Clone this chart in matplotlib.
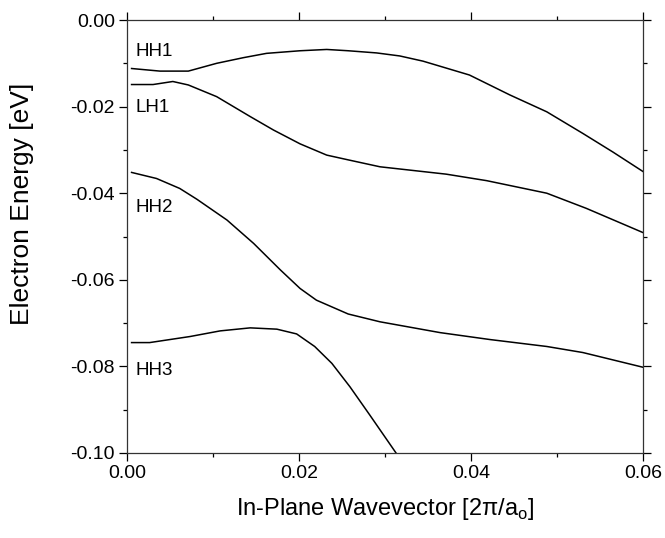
import matplotlib.pyplot as plt

plt.rcParams['font.family'] = ['Liberation Sans', 'DejaVu Sans']
plt.rcParams['axes.unicode_minus'] = False

# band data: in-plane wavevector [2pi/a0] vs energy [eV]
hh1_k = [0.0005, 0.0038, 0.0071, 0.0104, 0.0135, 0.0162, 0.0201, 0.0232, 0.0257, 0.0290,
         0.0317, 0.0344, 0.0398, 0.0445, 0.0488, 0.0530, 0.0565, 0.0600]
hh1_e = [-0.0112, -0.0118, -0.0118, -0.0100, -0.0087, -0.0077, -0.0071, -0.0068, -0.0071, -0.0076,
         -0.0083, -0.0095, -0.0127, -0.0173, -0.0212, -0.0262, -0.0305, -0.0350]

lh1_k = [0.0005, 0.0030, 0.0053, 0.0071, 0.0104, 0.0143, 0.0170, 0.0201, 0.0232, 0.0257,
         0.0294, 0.0371, 0.0418, 0.0488, 0.0534, 0.0600]
lh1_e = [-0.0149, -0.0149, -0.0142, -0.0150, -0.0177, -0.0223, -0.0254, -0.0286, -0.0312,
         -0.0323, -0.0339, -0.0356, -0.0371, -0.0400, -0.0435, -0.0491]

hh2_k = [0.0005, 0.0034, 0.0061, 0.0081, 0.0116, 0.0147, 0.0178, 0.0201, 0.0220, 0.0257,
         0.0294, 0.0364, 0.0422, 0.0488, 0.0530, 0.0600]
hh2_e = [-0.0352, -0.0366, -0.0389, -0.0414, -0.0462, -0.0516, -0.0577, -0.0620, -0.0647,
         -0.0679, -0.0697, -0.0722, -0.0738, -0.0754, -0.0768, -0.0802]

hh3_k = [0.0005, 0.0026, 0.0073, 0.0108, 0.0143, 0.0174, 0.0197, 0.0218, 0.0238, 0.0259,
         0.0282, 0.0313]
hh3_e = [-0.0745, -0.0745, -0.0731, -0.0718, -0.0711, -0.0714, -0.0725, -0.0754, -0.0793,
         -0.0847, -0.0912, -0.1001]

band_names = ['HH1', 'LH1', 'HH2', 'HH3']
label_k = [0.0009, 0.0009, 0.0009, 0.0009]
label_e = [-0.0072, -0.0202, -0.0434, -0.0810]

fig = plt.figure(figsize=(6.65, 5.38), dpi=100)
ax = fig.add_axes([0.1914, 0.158, 0.7756, 0.8048])

for k, e in [(hh1_k, hh1_e), (lh1_k, lh1_e), (hh2_k, hh2_e), (hh3_k, hh3_e)]:
    ax.plot(k, e, color='black', lw=1.1)

for name, k, e in zip(band_names, label_k, label_e):
    ax.text(k, e, name, fontsize=13.5, va='center', ha='left')

ax.set_xlim(0, 0.06)
ax.set_ylim(-0.10, 0.0)
ax.set_xticks([0.0, 0.02, 0.04, 0.06])
ax.set_xticks([0.01, 0.03, 0.05], minor=True)
ax.set_yticks([0.0, -0.02, -0.04, -0.06, -0.08, -0.10])
ax.set_yticks([-0.01, -0.03, -0.05, -0.07, -0.09], minor=True)
ax.set_xticklabels(['0.00', '0.02', '0.04', '0.06'])
ax.set_yticklabels(['0.00', '-0.02', '-0.04', '-0.06', '-0.08', '-0.10'])

ax.tick_params(which='both', direction='out', top=True, right=True, labelsize=14,
               width=0.9, pad=3)
ax.tick_params(which='major', length=6)
ax.tick_params(which='minor', length=3)
for s in ax.spines.values():
    s.set_linewidth(0.9)
    s.set_color('#333333')

ax.set_xlabel('In-Plane Wavevector [2π/a$_\\mathregular{o}$]', fontsize=17, labelpad=10)
ax.set_ylabel('Electron Energy [eV]', fontsize=19)
ax.yaxis.set_label_coords(-0.18, 0.575)

plt.savefig('out.png', dpi=100)
